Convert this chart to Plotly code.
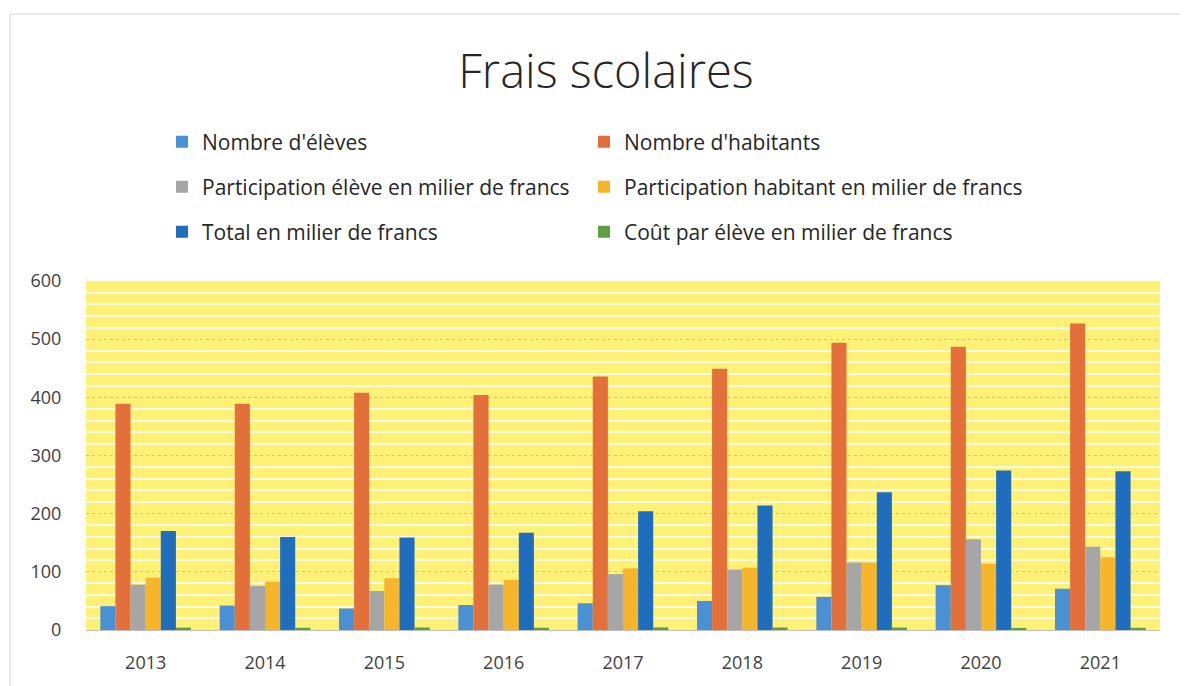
import plotly.graph_objects as go

years = ["2013", "2014", "2015", "2016", "2017", "2018", "2019", "2020", "2021"]
nb_eleves = [41, 42, 37, 43, 46, 50, 57, 77, 71]
nb_habitants = [389, 389, 408, 404, 436, 449, 494, 487, 527]
part_eleve = [78, 76, 67, 78, 96, 104, 116, 156, 143]
part_habitant = [90, 83, 89, 86, 106, 107, 116, 114, 125]
total = [170, 160, 159, 167, 204, 214, 237, 274, 273]
cout_eleve = [4.1, 3.8, 4.3, 3.9, 4.4, 4.3, 4.2, 3.6, 3.8]

series = [
    ("Nombre d'élèves", nb_eleves, "#4A90D4"),
    ("Nombre d'habitants", nb_habitants, "#E3703A"),
    ("Participation élève en milier de francs", part_eleve, "#A6A6A6"),
    ("Participation habitant en milier de francs", part_habitant, "#F7B52C"),
    ("Total en milier de francs", total, "#1F6EBE"),
    ("Coût par élève en milier de francs", cout_eleve, "#5E9E45"),
]

# page body has an 8px margin: figure pixel = screen pixel - 8
OFF = 8
W, H = 1188 - OFF, 686 - OFF
L, R, T, B = 86 - OFF, 28, 281 - OFF, 686 - 630
pw, ph = W - L - R, H - T - B


def px_x(p):
    return (p - OFF - L) / pw


def px_y(p):
    return (H - B - (p - OFF)) / ph


def cx(p):
    return (p - OFF) / W


def cy(p):
    return 1 - (p - OFF) / H


font_main = "Open Sans"
leg_cols = [162, 584]
leg_rows = [142, 187, 232]

fig = go.Figure()
legends = {}
for i, (name, vals, color) in enumerate(series):
    key = "legend" if i == 0 else f"legend{i + 1}"
    fig.add_trace(go.Bar(x=years, y=vals, name=name, marker_color=color,
                         marker_line_width=0, legend=key, showlegend=True))
    legends[key] = dict(x=cx(leg_cols[i % 2]), y=cy(leg_rows[i // 2]),
                        orientation="h", xanchor="left", yanchor="middle",
                        xref="container", yref="container",
                        font=dict(family=font_main, size=21, color="#262626"),
                        bgcolor="rgba(0,0,0,0)", itemclick=False)

fig.update_layout(
    width=W, height=H,
    showlegend=True,
    margin=dict(l=L, r=R, t=T, b=B, autoexpand=False),
    paper_bgcolor="white",
    plot_bgcolor="#FFF176",
    barmode="group", bargap=0.24, bargroupgap=0,
    title=dict(text="Frais scolaires", xref="container", x=cx(606),
               xanchor="center", y=cy(72), yanchor="middle",
               font=dict(family=font_main, size=47, color="#262626", weight=300)),
    xaxis=dict(type="category", showgrid=False, showline=False, zeroline=False,
               ticks="outside", ticklen=16, tickcolor="rgba(0,0,0,0)",
               tickfont=dict(family=font_main, size=18, color="#404040")),
    yaxis=dict(range=[0, 600], dtick=100, showline=False, zeroline=True,
               zerolinecolor="#BFBFBF", zerolinewidth=1,
               gridcolor="#C9C39A", griddash="dot", gridwidth=1,
               minor=dict(dtick=20, showgrid=True, gridcolor="#FFFCE6",
                          gridwidth=2, griddash="solid"),
               ticks="outside", ticklen=20, tickcolor="rgba(0,0,0,0)",
               tickfont=dict(family=font_main, size=18, color="#404040")),
    shapes=[dict(type="rect", xref="paper", yref="paper",
                 x0=px_x(10), x1=px_x(1200), y0=px_y(700), y1=px_y(14),
                 line=dict(color="#D4D4D4", width=1), layer="below")],
    **legends,
)

fig.write_html("out.html")
